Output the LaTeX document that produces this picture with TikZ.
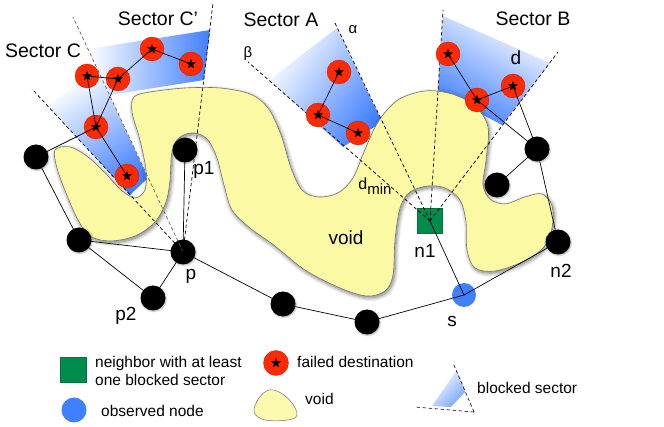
\documentclass[tikz,border=0pt]{standalone}
\usepackage{fontspec}
\setmainfont{Liberation Sans}
\usepackage{tikz}
\usetikzlibrary{arrows.meta, shadows.blur, shapes.geometric}
\definecolor{voidyellow}{RGB}{252,249,165}
\definecolor{failred}{RGB}{255,42,0}
\definecolor{nbrgreen}{RGB}{0,140,76}
\definecolor{obsblue}{RGB}{64,128,255}
\definecolor{secblue}{RGB}{66,128,255}

\begin{document}
\begin{tikzpicture}[x=1pt, y=-1pt, font=\fontsize{19}{22}\selectfont,
    node_b/.style={
        circle, fill=black, minimum size=25pt, inner sep=0pt,
        blur shadow={shadow blur steps=4, shadow xshift=0.8pt, shadow yshift=-1pt,
                     shadow opacity=30, shadow blur radius=1.5pt}
    },
    dest/.style={
        circle, fill=failred, draw=failred!75!black, line width=0.3pt,
        minimum size=24pt, inner sep=0pt,
        path picture={\node[star, star points=5, star point ratio=2.4, fill=black,
                      inner sep=0pt, minimum size=10.5pt]
                      at (path picture bounding box.center) {};}
    },
    nbr/.style={
        rectangle, fill=nbrgreen, draw=nbrgreen!80!black, line width=0.3pt,
        minimum size=25pt, inner sep=0pt
    },
    obs/.style={
        circle, fill=obsblue, minimum size=24pt, inner sep=0pt
    },
    void_area/.style={
        fill=voidyellow, draw=black!55, line width=0.6pt,
        blur shadow={shadow blur steps=8, shadow xshift=1.2pt, shadow yshift=-1.8pt,
                     shadow opacity=55, shadow blur radius=4pt}
    },
    sec_fill/.style={top color=white, bottom color=secblue},
    ray/.style={dashed, dash pattern=on 3.5pt off 2.5pt, line width=0.7pt},
    link/.style={line width=0.7pt},
    lbl/.style={inner sep=0pt, font=\fontsize{19}{22}\selectfont},
    sec_lbl/.style={inner sep=0pt, font=\fontsize{19.5}{22}\selectfont},
    greek/.style={inner sep=0pt, font=\fontsize{15}{17}\selectfont},
    leg_txt/.style={inner sep=0pt, anchor=west, align=left,
                    font=\fontsize{15.5}{17.5}\selectfont},
]
\useasboundingbox (0,0) rectangle (664,427);

% --- Sectores bloqueados (sombreado) ---
\shade[sec_fill, shading angle=35] (130,195) -- (148,178) -- (98,71) -- (47,105) -- cycle;
\shade[left color=white, right color=secblue] (110,95) -- (88,49) -- (210,30) -- (204,80) -- cycle;
\shade[sec_fill, shading angle=55] (382,122) -- (343,147) -- (269,80) -- (337,28) -- cycle;
\shade[sec_fill, shading angle=-30] (438,91) -- (502,125) -- (550,63) -- (443,16) -- cycle;

% --- Hueco (void) ---
\path[void_area] plot[smooth cycle, tension=0.55] coordinates {
    (55,150) (70,147) (88,157) (106,174) (121,190) (135,198) (145,190)
    (146,170) (140,140) (132,112) (134,97) (150,92) (185,88) (220,88)
    (250,94) (268,108) (281,135) (291,168) (302,190) (318,197) (338,193)
    (353,178) (364,152) (378,122) (398,100) (425,91) (452,94) (475,106)
    (488,127) (486,160) (483,185) (490,199) (505,204) (525,197) (542,194)
    (552,206) (552,228) (543,248) (522,262) (495,271) (475,268) (467,250)
    (466,222) (460,200) (445,188) (428,186) (410,192) (400,208) (395,240)
    (393,275) (385,291) (367,296) (340,288) (305,270) (275,246) (250,228)
    (232,210) (224,185) (217,158) (208,140) (195,133) (180,137) (172,152)
    (170,180) (166,202) (155,222) (135,236) (110,241) (90,236) (78,220)
    (66,193) (57,168)};

% --- Vecino con sectores bloqueados ---
\node[nbr] (n1) at (430,221) {};

% --- Rayos de los sectores ---
\coordinate (rC)  at (32,89);
\coordinate (rCC) at (73,17);
\coordinate (rCp) at (213,3);
\coordinate (rbeta)  at (248,62);
\coordinate (ralpha) at (335,23);
\coordinate (rB1) at (443,10);
\coordinate (rB2) at (558,52);

\node[node_b] (p) at (183,252) {};

\draw[ray] (p.center) -- (rC);
\draw[ray, black!60] (p.center) -- (rCC);
\draw[ray] (p.center) -- (rCp);
\draw[ray] (n1.center) -- (rbeta);
\draw[ray] (n1.center) -- (ralpha);
\draw[ray] (n1.center) -- (rB1);
\draw[ray] (n1.center) -- (rB2);

% --- Nodos de la red ---
\node[node_b] (a1) at (36,157) {};
\node[node_b] (b1) at (79,240) {};
\node[node_b] (p2) at (153,298) {};
\node[node_b] (p1) at (185,150) {};
\node[node_b] (m1) at (283,304) {};
\node[node_b] (m2) at (367,322) {};
\node[obs]    (s)  at (464,295) {};
\node[node_b] (n2) at (558,242) {};
\node[node_b] (r1) at (537,149) {};
\node[node_b] (r2) at (497,185) {};

% --- Destinos fallidos ---
\node[dest] (dC1) at (87,76) {};
\node[dest] (dC2) at (118,79) {};
\node[dest] (dC3) at (152,49) {};
\node[dest] (dC4) at (191,64) {};
\node[dest] (dC5) at (96,127) {};
\node[dest] (dC6) at (127,176) {};
\node[dest] (dA1) at (339,72) {};
\node[dest] (dA2) at (318,115) {};
\node[dest] (dA3) at (358,133) {};
\node[dest] (dB1) at (448,54) {};
\node[dest] (dB2) at (477,100) {};
\node[dest] (dB3) at (513,86) {};

% --- Enlaces ---
\foreach \u/\v in {a1/b1, a1/dC5, dC5/dC1, dC5/dC2, dC1/dC2, dC2/dC3, dC3/dC4,
                   dC5/dC6, b1/p, b1/p2, p2/p, p/p1, p/m1, m1/m2, m2/s, s/n1,
                   s/n2, n2/r1, r1/r2, r1/dB2, r1/dB3, dB1/dB2, dB2/dB3,
                   dA1/dA2, dA2/dA3}
    \draw[link] (\u.center) -- (\v.center);

% --- Etiquetas ---
\node[sec_lbl] (lC)  at (43,51)  {Sector C};
\node[sec_lbl] (lCp) at (158,19) {Sector C'};
\node[sec_lbl] (lA)  at (281,20) {Sector A};
\node[sec_lbl] (lB)  at (533,19) {Sector B};
\node[greek] (lalpha) at (353,30) {α};
\node[greek] (lbeta)  at (248,54) {β};
\node[lbl] (ld) at (516,58) {d};
\node[inner sep=0pt, font=\fontsize{16}{18}\selectfont] (ldmin) at (375,186)
    {d\raisebox{-5pt}{\fontsize{15}{17}\selectfont min}};
\node[lbl] (lp1)  at (204,170) {p1};
\node[lbl] (lp)   at (191,276) {p};
\node[lbl] (lp2)  at (126,316) {p2};
\node[lbl] (lvoid) at (346,238) {void};
\node[lbl] (ln1)  at (425,251) {n1};
\node[lbl] (ln2)  at (561,271) {n2};
\node[lbl] (ls)   at (452,321) {s};

% --- Leyenda ---
\node[nbr, minimum width=26pt] (kn1) at (73,370) {};
\node[leg_txt] (tn1) at (95,371) {neighbor with at least\\one blocked sector};
\node[obs, minimum size=25pt] (ks) at (74,410) {};
\node[leg_txt] (ts) at (101,411) {observed node};
\node[dest, minimum size=25pt] (kd) at (276,363) {};
\node[leg_txt] (td) at (297,362) {failed destination};
\path[fill=voidyellow!90!white, draw=black!55, line width=0.5pt]
    plot[smooth cycle, tension=0.6] coordinates {
    (254,412) (259,398) (269,390) (281,393) (292,403) (297,415) (288,420) (265,420)};
\node[leg_txt] (tv) at (305,399) {void};
\coordinate (kcorner) at (474,412);
\coordinate (kr1) at (453,363);
\coordinate (kr2) at (415,407);
\shade[top color=white, bottom color=secblue!70, shading angle=45]
    (465,392) -- (451,407) -- (432,406) -- (457,370) -- cycle;
\draw[ray, line width=0.6pt] (kcorner) -- (kr1);
\draw[ray, line width=0.6pt] (kcorner) -- (kr2);
\node[leg_txt] (tk) at (477,388) {blocked sector};

\end{tikzpicture}
\end{document}
